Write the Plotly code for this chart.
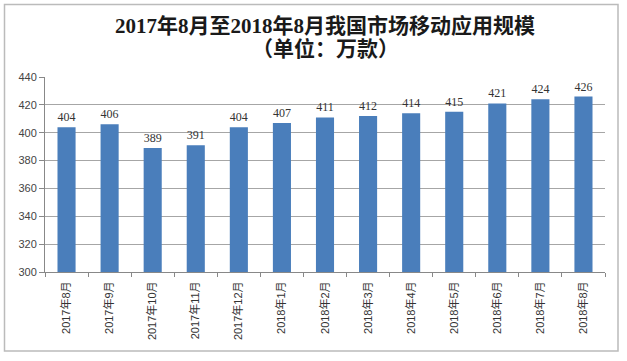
import plotly.graph_objects as go

categories = ["2017年8月", "2017年9月", "2017年10月", "2017年11月", "2017年12月",
              "2018年1月", "2018年2月", "2018年3月", "2018年4月", "2018年5月",
              "2018年6月", "2018年7月", "2018年8月"]
values = [404, 406, 389, 391, 404, 407, 411, 412, 414, 415, 421, 424, 426]

L, R, T, B = 45, 22, 77, 89
W, H = 627, 361
pw, ph = W - L - R, H - T - B

def px(x):
    return (x - L) / pw

def py(y):
    return (H - B - y) / ph

fig = go.Figure(go.Bar(
    x=categories, y=values,
    marker=dict(color="#4a7ebb", line=dict(width=0)),
    text=values, textposition="outside",
    textfont=dict(family="Liberation Serif, Times New Roman", size=12, color="#333333"),
    cliponaxis=False,
    width=0.42,
))

title_font = dict(family="Liberation Serif, Noto Sans CJK SC", size=21, color="#1a1a1a")
fig.update_layout(
    width=W, height=H,
    margin=dict(l=L, r=R, t=T, b=B),
    paper_bgcolor="white", plot_bgcolor="white",
    showlegend=False,
    font=dict(family="Liberation Sans, Noto Sans CJK SC", size=11, color="#333333"),
    annotations=[
        dict(text="<b>2017年8月至2018年8月我国市场移动应用规模</b>", x=0.5, xref="paper",
             y=py(26), yref="paper", showarrow=False, xanchor="center", yanchor="middle",
             font=title_font),
        dict(text="<b>（单位：万款）</b>", x=0.5, xref="paper",
             y=py(49), yref="paper", showarrow=False, xanchor="center", yanchor="middle",
             font=title_font),
    ],
    shapes=[
        dict(type="rect", xref="paper", yref="paper",
             x0=px(4.5), x1=px(618), y0=py(351), y1=py(4.5),
             line=dict(color="#bbbbbb", width=1.5), fillcolor="rgba(0,0,0,0)", layer="below"),
    ],
)

fig.update_yaxes(
    range=[300, 440], dtick=20, showgrid=True, gridcolor="#a6a6a6", gridwidth=1,
    showline=True, linecolor="#888888", ticks="outside", ticklen=5, tickcolor="#888888",
    tickfont=dict(size=11, color="#444444"), zeroline=False,
)
fig.update_xaxes(
    tickangle=-90, showline=True, linecolor="#888888", ticks="outside", ticklen=4,
    tickcolor="#888888", tickson="boundaries", ticklabelstandoff=4,
    tickfont=dict(size=11, color="#333333", family="Liberation Sans, Noto Sans CJK SC"),
)

fig.write_html("out.html", config={"displayModeBar": False},
               post_script="document.body.style.margin='0';")
